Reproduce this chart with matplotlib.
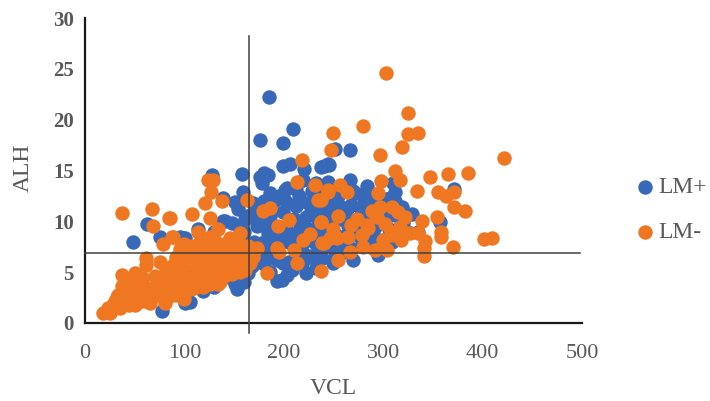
import matplotlib
matplotlib.use("Agg")
import matplotlib.pyplot as plt

plt.rcParams["font.family"] = ["Liberation Serif", "DejaVu Serif"]

# values
lm_plus_x = [185, 209, 176, 199, 128, 158, 180, 184, 178, 199, 206, 220, 219, 240, 245, 203, 186, 232, 244, 252, 267,
             267, 244, 284, 279, 310, 312, 307, 319, 329, 371, 357, 270, 250, 295, 309, 280, 264, 247, 237, 176, 201,
             141, 169, 203, 186, 199, 173, 184, 201, 227, 244, 220, 234, 193, 203, 222, 199, 181, 151, 153, 164, 247,
             230, 219, 186, 48, 62, 75, 101, 96, 114, 139, 139, 151, 159, 154, 161, 156, 77, 101, 106, 81, 76, 119,
             159, 149, 99, 125, 140, 130, 145, 170, 190, 210, 225, 260, 275, 290, 300, 320, 335, 255, 270, 285, 240,
             215, 195, 180, 165, 215, 235, 260, 290, 305, 325, 130, 110, 90, 145, 160, 175, 205, 225, 245, 265, 285,
             212, 228, 238, 252, 262, 272, 282, 292, 302, 312, 322, 212, 224, 236, 248, 258, 268, 278, 288, 298, 308,
             318, 190, 200, 210, 222, 234, 246, 258, 270, 282, 294, 306, 172, 182, 192, 204, 216, 228, 240, 252, 264,
             276, 288, 300, 160, 170, 180, 192, 205, 218, 230, 242, 254, 266, 278, 290, 163, 175, 188, 198, 212, 226,
             238, 252, 148, 158, 168, 180, 193, 205, 218, 232, 150, 160, 172, 186, 198, 208]
lm_plus_y = [22.2, 19.1, 18, 17.7, 14.6, 14.7, 14.8, 14.6, 13.8, 15.4, 15.6, 15.1, 14.1, 15.4, 15.5, 13.3, 12.8, 13.8,
             13.9, 17.1, 17, 14.1, 15.6, 13.5, 12.6, 13.8, 12.9, 12.3, 11.4, 10.7, 13.2, 9.9, 6.2, 5.9, 6.7, 8, 11.6,
             11.2, 11.4, 15.3, 14.4, 13.1, 10, 11.8, 11.8, 10.5, 10.9, 9.5, 8.9, 8.5, 10.9, 10.9, 9.5, 7.5, 4.1, 4.7,
             4.9, 5.9, 6.2, 3.8, 3.3, 4.9, 8.9, 9.2, 6.9, 6.9, 8, 9.7, 8.5, 8.4, 8.5, 9.2, 10, 12.3, 11.9, 12.9, 11.2,
             10.2, 9.2, 1.2, 2, 2.1, 3, 2.8, 3.1, 4.5, 6.5, 8.4, 5.5, 7.5, 9, 8, 8, 7.5, 8.5, 6.5, 8, 9.5, 8, 10, 9.8,
             9, 12.5, 13, 12, 12.5, 12.5, 12.5, 12, 10.5, 7, 6.5, 7, 9, 11, 9, 3.5, 5, 3.5, 4.5, 9, 6.5, 8, 8.5, 9.5, 9.5, 10.5,
             13.2, 13, 12.8, 13.2, 13, 12.8, 12.6, 12.4, 12.2, 12, 10.8, 11.5, 11.8, 11.5, 11.6, 11.4, 11.6, 11.2, 11,
             10.8, 10.6, 9.8, 12, 12.2, 10.2, 10.4, 10.2, 10, 10.2, 10, 9.6, 9.6, 9.2, 10.5, 10, 9.2, 9, 9.2, 9, 9, 8.8,
             8.8, 8.6, 8.4, 8.2, 8, 7.2, 8, 7.8, 8, 7.8, 8, 7.6, 7.8, 7.5, 7.6, 7.4, 10.5, 11.2, 8.2, 8.8, 6.8, 6.6, 6.4,
             6.6, 9.8, 5.2, 5.6, 5.8, 6.2, 6, 5.8, 5.4, 4.4, 4, 6.3, 5, 4.2, 5.2]

lm_minus_x = [303, 325, 319, 325, 335, 422, 347, 365, 385, 312, 317, 298, 334, 355, 363, 371, 371, 382, 354, 339,
              358, 358, 401, 409, 370, 342, 341, 341, 289, 297, 309, 315, 322, 294, 302, 309, 317, 327, 335, 285,
              274, 255, 265, 279, 254, 267, 255, 292, 304, 299, 280, 295, 257, 244, 264, 237, 237, 250, 240, 250,
              247, 280, 218, 124, 129, 127, 138, 121, 108, 126, 86, 163, 213, 231, 297, 234, 244, 179, 186, 194, 205,
              237, 219, 193, 195, 210, 173, 213, 237, 183, 238, 114, 134, 89, 156, 146, 126, 96, 111, 129, 169, 166,
              161, 136, 121, 143, 119, 103, 37, 67, 85, 68, 88, 78, 61, 61, 75, 37, 50, 58, 74, 37, 48, 65, 50,
              32, 28, 18, 25, 35, 94, 106, 119, 76, 93, 86, 113, 99, 58, 43, 86, 81, 96, 109, 45, 23, 30, 40, 55,
              70, 100, 128, 150, 153, 115, 92, 80, 64, 52, 42, 33,
              100, 108, 116, 124, 132, 140, 148, 156, 164, 104, 112, 120, 128, 136, 144, 152, 160, 90, 98, 106, 114,
              122, 130, 138, 146, 154, 162, 84, 92, 100, 108, 116, 124, 132, 140, 148, 156, 70, 78, 86, 94, 102, 110,
              118, 126, 134, 142, 45, 52, 60, 68, 76, 84, 92, 100, 40, 48, 56, 64, 72, 80, 36, 44, 52, 60, 38, 46,
              284, 308, 318, 268, 300, 226, 246]
lm_minus_y = [24.6, 20.7, 17.3, 18.6, 18.7, 16.2, 14.4, 14.7, 14.8, 15, 14.1, 14, 13, 12.9, 12.5, 12.9, 11.4, 11,
              10.4, 10, 8.5, 9, 8.3, 8.4, 7.5, 8.1, 7.4, 6.6, 11, 11.4, 11.4, 10.9, 10.4, 10.4, 9.7, 8.7, 9.4, 8.9,
              8.9, 9.3, 10.2, 10.5, 8.5, 8.7, 8.4, 7, 6.2, 7.2, 7.2, 7.5, 7.5, 12.8, 13.6, 12.9, 12.9, 12.1, 9.9,
              9.2, 7.9, 18.7, 17, 19.4, 16, 14.1, 14.1, 12.9, 12, 11.8, 10.7, 10.3, 10.3, 12.1, 13.9, 13.6, 16.5,
              12.1, 13.1, 11, 11.3, 9.5, 10.1, 9.9, 8.2, 7.4, 7, 7.2, 7.4, 5.9, 5.1, 4.9, 7.9, 9, 9.2, 8.5, 8.9,
              8.4, 8.5, 7.3, 7, 7.4, 6.5, 5.9, 5.2, 4, 4, 6.2, 6, 5.9, 10.8, 11.2, 10.3, 9.5, 8.5, 7.8, 6.4, 5.7,
              6, 4.7, 4.9, 4.4, 4, 3.6, 3.3, 2, 1.8, 2.6, 1.8, 1, 1, 1.5, 3.3, 3.3, 3.5, 4.2, 4.5, 5.2, 4.9, 4.4,
              3.6, 3.9, 4, 5.4, 5.9, 5.9, 2.6, 1.5, 2.2, 3, 3.2, 3.3, 6.5, 6.8, 7.2, 6.6, 5.8, 6.5, 3.5, 3, 2.4, 3.1, 2.8,
              7.8, 7.6, 8, 7.8, 8, 7.8, 7.6, 7.8, 7.6, 6.8, 6.6, 6.8, 6.6, 6.8, 6.9, 6.8, 6.6, 5.8, 5.6, 5.8, 5.6, 5.6,
              5.8, 5.4, 5.6, 6, 6.4, 4.6, 4.4, 4.6, 4.4, 4.6, 4.8, 5, 4.6, 4.8, 5, 4.6, 4.4, 3.6, 3.4, 3.6, 3.4, 3.6,
              3.8, 3.8, 5.4, 3.2, 3.6, 3.4, 3.4, 3.6, 2.6, 2.8, 2.4, 2.6, 2.4, 2.4, 2.8, 2.8, 2, 3, 1.8, 2, 2.2, 2.8, 2.4,
              9.6, 9, 8.2, 9.6, 8.2, 8.8, 8.4]

x_ticks = [0, 100, 200, 300, 400, 500]
y_ticks = [0, 5, 10, 15, 20, 25, 30]
cut_x = [165, 165]
cut_y = [28.2, -1.0]
level_x = [0, 498]
level_y = [6.9, 6.9]

fig = plt.figure(figsize=(7.10, 4.01), dpi=100)
ax = fig.add_axes([85 / 710, 1 - 323 / 401, 497 / 710, 305 / 401])

ax.scatter(lm_plus_x, lm_plus_y, s=108, color="#3868B8", linewidths=0, label="LM+", zorder=2, clip_on=False)
ax.scatter(lm_minus_x, lm_minus_y, s=108, color="#EF7722", linewidths=0, label="LM-", zorder=3, clip_on=False)

# cross lines
ax.plot(cut_x, cut_y, color="#404040", lw=1.1, zorder=4, clip_on=False)
ax.plot(level_x, level_y, color="#404040", lw=1.1, zorder=4, clip_on=False)

ax.set_xlim(0, 500)
ax.set_ylim(0, 30)
ax.set_xticks(x_ticks)
ax.set_yticks(y_ticks)
ax.tick_params(length=0, colors="#595959")
ax.tick_params(axis="x", labelsize=16, pad=15)
ax.tick_params(axis="y", labelsize=15, pad=8)
for lab in ax.get_yticklabels():
    lab.set_fontweight("bold")

for side in ["top", "right"]:
    ax.spines[side].set_visible(False)
for side in ["left", "bottom"]:
    ax.spines[side].set_linewidth(1.6)
    ax.spines[side].set_color("#1a1a1a")

fig.text(333 / 710, 1 - 388 / 401, "VCL", fontsize=17, color="#595959", ha="center", va="center")
fig.text(23 / 710, 1 - 168 / 401, "ALH", fontsize=17, color="#595959", ha="center", va="center", rotation=90)

leg = ax.legend(loc="center left", bbox_to_anchor=(636 / 710, 1 - 210 / 401), bbox_transform=fig.transFigure,
                frameon=False, fontsize=17, labelspacing=1.0, handlelength=0.8, handletextpad=0.15,
                borderpad=0, borderaxespad=0)
for t in leg.get_texts():
    t.set_color("#595959")

plt.savefig("out.png", dpi=100)
